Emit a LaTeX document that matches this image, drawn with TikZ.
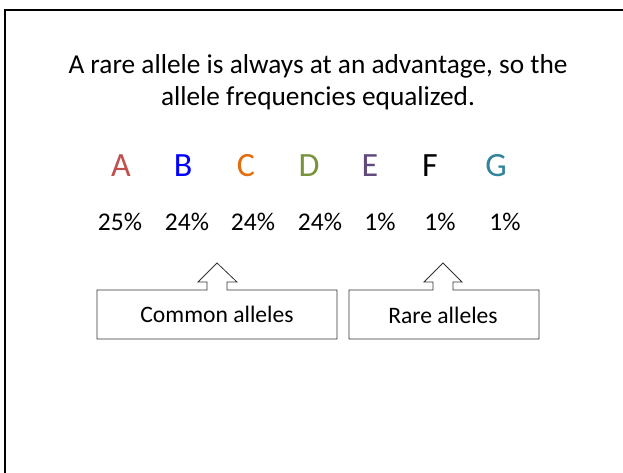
\documentclass[tikz,border=0pt]{standalone}
\usepackage{fontspec}
\setmainfont{Carlito}
\begin{document}
\begin{tikzpicture}[x=1pt,y=-1pt,
  title/.style={font=\fontsize{27.3}{32.5}\selectfont,align=center,inner sep=0pt,anchor=base},
  letter/.style={font=\fontsize{34}{36}\selectfont,inner sep=0pt,anchor=base},
  pct/.style={font=\fontsize{25.5}{28}\selectfont,inner sep=0pt,anchor=base},
  callout/.style={draw=black!80,line width=0.8pt,fill=white},
  boxtext/.style={font=\fontsize{23.6}{26}\selectfont,inner sep=0pt,anchor=base}]
\useasboundingbox (0,0) rectangle (623,472);
\fill[white] (0,0) rectangle (623,472);
\begin{scope}
\clip (0,0) rectangle (623,472);
\draw[line width=2.4pt] (5,480) -- (5,10) -- (640,10);
\end{scope}
\node[title] (t1) at (318,73) {A rare allele is always at an advantage, so the};
\node[title] (t2) at (318,105) {allele frequencies equalized.};
\node[letter,text={rgb,255:red,192;green,80;blue,77}] (A) at (121,176) {A};
\node[letter,text={rgb,255:red,0;green,0;blue,255}] (B) at (183,176) {B};
\node[letter,text={rgb,255:red,228;green,108;blue,10}] (C) at (246,176) {C};
\node[letter,text={rgb,255:red,119;green,147;blue,60}] (D) at (309,176) {D};
\node[letter,text={rgb,255:red,96;green,74;blue,123}] (E) at (370,176) {E};
\node[letter,text=black] (F) at (430,176) {F};
\node[letter,text={rgb,255:red,49;green,132;blue,155}] (G) at (496,176) {G};
\node[pct] (pA) at (120,230) {25\%};
\node[pct] (pB) at (187,230) {24\%};
\node[pct] (pC) at (253,230) {24\%};
\node[pct] (pD) at (320,230) {24\%};
\node[pct] (pE) at (380,230) {1\%};
\node[pct] (pF) at (440,230) {1\%};
\node[pct] (pG) at (505,230) {1\%};
% callout 1
\draw[callout] (97,290) -- (207,290) -- (207,282) -- (198,282) -- (217,263) -- (237,282) -- (227,282) -- (227,290) -- (337,290) -- (337,339) -- (97,339) -- cycle;
\node[boxtext] (c1) at (217,322) {Common alleles};
% callout 2
\draw[callout] (349,290) -- (433,290) -- (433,282) -- (424,282) -- (443,263) -- (462,282) -- (453,282) -- (453,290) -- (539,290) -- (539,339) -- (349,339) -- cycle;
\node[boxtext] (c2) at (443,323) {Rare alleles};
\end{tikzpicture}
\end{document}
